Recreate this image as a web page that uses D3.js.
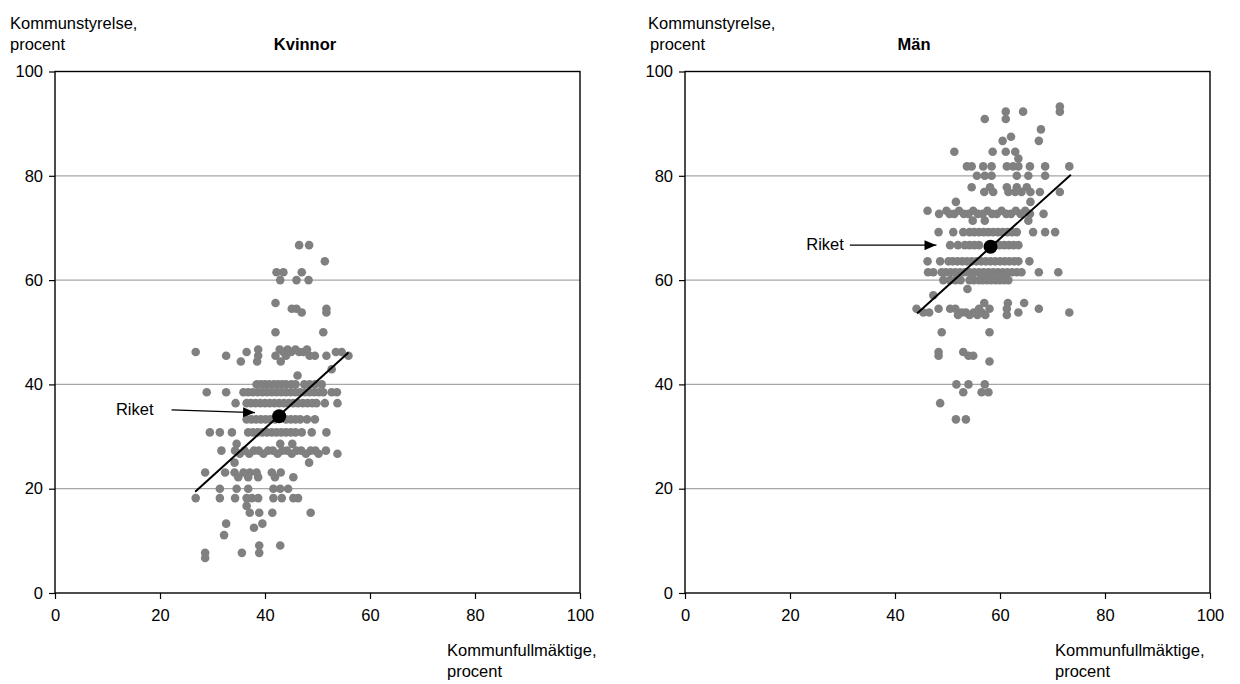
<!DOCTYPE html>
<html>
<head>
<meta charset="utf-8">
<script src="https://cdn.jsdelivr.net/npm/d3@7"></script>
<style>
  html, body { margin: 0; padding: 0; background: #fff; }
  svg { display: block; font-family: "Liberation Sans", Arial, sans-serif; }
</style>
</head>
<body>
<svg id="chart" width="1240" height="684"></svg>
<script>
// ---------- DATA ----------
const panelTitles = ["Kvinnor", "Män"];
const yAxisTitle = ["Kommunstyrelse,", "procent"];
const xAxisTitle = ["Kommunfullmäktige,", "procent"];
const tickValues = [0, 20, 40, 60, 80, 100];
const gridValues = [20, 40, 60, 80];
const riketLabel = "Riket";

// Kvinnor: [andel i kommunfullmäktige, andel i kommunstyrelse]
const kvinnorPoints = [
  [46.5,66.7],[48.4,66.7],[51.4,63.6],[42.2,61.5],[43.5,61.5],[47.0,61.5],
  [42.9,60.0],[46.0,60.0],[48.3,60.0],[42.0,55.6],[45.1,54.5],[46.0,54.5],
  [47.0,53.8],[51.7,54.5],[51.7,53.8],[42.0,50.0],[51.1,50.0],
  [26.8,46.2],[32.6,45.5],[35.4,44.4],[36.5,46.2],[38.7,46.7],[38.7,45.5],[38.5,44.4],
  [42.0,45.5],[42.8,46.7],[43.5,46.2],[44.3,46.7],[45.0,46.2],[45.8,46.7],[46.5,46.2],
  [47.3,46.2],[48.0,46.7],[48.5,45.5],[49.5,45.5],[43.0,44.4],[44.0,45.5],
  [51.7,45.5],[53.5,46.2],[54.6,46.2],[55.9,45.5],[46.2,41.7],[52.7,42.9],
  [38.4,40],[39.2,40],[40.0,40],[40.8,40],[41.7,40],[42.5,40],[43.3,40],[44.0,40],
  [45.0,40],[45.8,40],[47.5,40],[48.5,40],[49.5,40],[50.8,40],
  [28.9,38.5],[32.6,38.5],[35.9,38.5],[36.8,38.5],[37.7,38.5],[38.6,38.5],[39.5,38.5],
  [40.4,38.5],[41.3,38.5],[42.2,38.5],[43.1,38.5],[44.0,38.5],[44.9,38.5],[45.8,38.5],
  [46.7,38.5],[47.6,38.5],[48.5,38.5],[49.4,38.5],[50.3,38.5],[51.1,38.5],[52.7,38.5],[53.7,38.5],
  [34.4,36.4],[36.5,36.4],[37.3,36.4],[38.2,36.4],[39.1,36.4],[40.0,36.4],[40.9,36.4],
  [41.8,36.4],[42.7,36.4],[43.6,36.4],[44.5,36.4],[45.4,36.4],[46.3,36.4],[47.2,36.4],
  [48.1,36.4],[49.0,36.4],[49.8,36.4],[51.4,36.4],[53.8,36.4],
  [36.5,33.3],[37.4,33.3],[38.3,33.3],[39.2,33.3],[40.1,33.3],[41.0,33.3],[41.9,33.3],
  [44.0,33.3],[44.9,33.3],[45.8,33.3],[46.7,33.3],[48.0,33.3],[49.5,33.3],
  [29.5,30.8],[31.4,30.8],[33.7,30.8],[36.8,30.8],[37.7,30.8],[38.6,30.8],[39.5,30.8],
  [40.4,30.8],[41.3,30.8],[42.2,30.8],[43.1,30.8],[44.0,30.8],[44.9,30.8],[45.8,30.8],
  [47.0,30.8],[48.9,30.8],[51.7,30.8],
  [34.6,28.6],[42.9,28.6],[45.2,28.6],
  [31.7,27.3],[34.3,27.3],[35.2,26.7],[36.1,27.3],[37.0,26.7],[37.9,27.3],[38.8,27.3],
  [39.7,26.7],[40.6,27.3],[41.5,27.3],[42.4,26.7],[43.3,27.3],[44.2,27.3],[45.1,26.7],
  [46.0,27.3],[46.9,27.3],[47.8,26.7],[48.7,27.3],[49.6,27.3],[50.2,26.7],[51.6,27.3],[53.8,26.7],
  [34.2,25.0],[48.4,25.0],
  [28.6,23.1],[32.4,23.1],[34.2,23.1],[35.9,23.1],[37.1,23.1],[38.4,23.1],[41.3,23.1],[43.0,23.1],
  [34.9,22.2],[36.8,22.2],[38.7,22.2],[41.9,22.2],[45.4,22.2],
  [31.4,20.0],[34.6,20.0],[36.8,20.0],[41.6,20.0],[42.9,20.0],[44.4,20.0],
  [26.8,18.2],[31.4,18.2],[34.3,18.2],[36.5,18.2],[37.5,18.2],[38.7,18.2],[41.6,18.2],
  [43.2,18.2],[45.4,18.2],[46.3,18.2],
  [36.5,16.7],[37.1,15.4],[38.9,15.4],[41.4,15.4],[48.7,15.4],
  [32.6,13.3],[39.5,13.3],[37.9,12.5],[32.2,11.1],[38.9,9.1],[42.9,9.1],
  [38.9,7.7],[35.6,7.7],[28.6,7.7],[28.6,6.7]
];

// Män: [andel i kommunfullmäktige, andel i kommunstyrelse]
const manPoints = [
  [53.5,33.3],[51.6,33.3],[48.6,36.4],[57.8,38.5],[56.5,38.5],[53.0,38.5],
  [57.1,40.0],[54.0,40.0],[51.7,40.0],[58.0,44.4],[54.9,45.5],[54.0,45.5],
  [53.0,46.2],[48.3,45.5],[48.3,46.2],[58.0,50.0],[48.9,50.0],
  [73.2,53.8],[67.4,54.5],[64.6,55.6],[63.5,53.8],[61.3,53.3],[61.3,54.5],[61.5,55.6],
  [58.0,54.5],[57.2,53.3],[56.5,53.8],[55.7,53.3],[55.0,53.8],[54.2,53.3],[53.5,53.8],
  [52.7,53.8],[52.0,53.3],[51.5,54.5],[50.5,54.5],[57.0,55.6],[56.0,54.5],
  [48.3,54.5],[46.5,53.8],[45.4,53.8],[44.1,54.5],[53.8,58.3],[47.3,57.1],
  [61.6,60],[60.8,60],[60.0,60],[59.2,60],[58.3,60],[57.5,60],[56.7,60],[56.0,60],
  [55.0,60],[54.2,60],[52.5,60],[51.5,60],[50.5,60],[49.2,60],
  [71.1,61.5],[67.4,61.5],[64.1,61.5],[63.2,61.5],[62.3,61.5],[61.4,61.5],[60.5,61.5],
  [59.6,61.5],[58.7,61.5],[57.8,61.5],[56.9,61.5],[56.0,61.5],[55.1,61.5],[54.2,61.5],
  [53.3,61.5],[52.4,61.5],[51.5,61.5],[50.6,61.5],[49.7,61.5],[48.9,61.5],[47.3,61.5],[46.3,61.5],
  [65.6,63.6],[63.5,63.6],[62.7,63.6],[61.8,63.6],[60.9,63.6],[60.0,63.6],[59.1,63.6],
  [58.2,63.6],[57.3,63.6],[56.4,63.6],[55.5,63.6],[54.6,63.6],[53.7,63.6],[52.8,63.6],
  [51.9,63.6],[51.0,63.6],[50.2,63.6],[48.6,63.6],[46.2,63.6],
  [63.5,66.7],[62.6,66.7],[61.7,66.7],[60.8,66.7],[59.9,66.7],[59.0,66.7],[58.1,66.7],
  [56.0,66.7],[55.1,66.7],[54.2,66.7],[53.3,66.7],[52.0,66.7],[50.5,66.7],
  [70.5,69.2],[68.6,69.2],[66.3,69.2],[63.2,69.2],[62.3,69.2],[61.4,69.2],[60.5,69.2],
  [59.6,69.2],[58.7,69.2],[57.8,69.2],[56.9,69.2],[56.0,69.2],[55.1,69.2],[54.2,69.2],
  [53.0,69.2],[51.1,69.2],[48.3,69.2],
  [65.4,71.4],[57.1,71.4],[54.8,71.4],
  [68.3,72.7],[65.7,72.7],[64.8,73.3],[63.9,72.7],[63.0,73.3],[62.1,72.7],[61.2,72.7],
  [60.3,73.3],[59.4,72.7],[58.5,72.7],[57.6,73.3],[56.7,72.7],[55.8,72.7],[54.9,73.3],
  [54.0,72.7],[53.1,72.7],[52.2,73.3],[51.3,72.7],[50.4,72.7],[49.8,73.3],[48.4,72.7],[46.2,73.3],
  [65.8,75.0],[51.6,75.0],
  [71.4,76.9],[67.6,76.9],[65.8,76.9],[64.1,76.9],[62.9,76.9],[61.6,76.9],[58.7,76.9],[57.0,76.9],
  [65.1,77.8],[63.2,77.8],[61.3,77.8],[58.1,77.8],[54.6,77.8],
  [68.6,80.0],[65.4,80.0],[63.2,80.0],[58.4,80.0],[57.1,80.0],[55.6,80.0],
  [73.2,81.8],[68.6,81.8],[65.7,81.8],[63.5,81.8],[62.5,81.8],[61.3,81.8],[58.4,81.8],
  [56.8,81.8],[54.6,81.8],[53.7,81.8],
  [63.5,83.3],[62.9,84.6],[61.1,84.6],[58.6,84.6],[51.3,84.6],
  [67.4,86.7],[60.5,86.7],[62.1,87.5],[67.8,88.9],[61.1,90.9],[57.1,90.9],
  [61.1,92.3],[64.4,92.3],[71.4,92.3],[71.4,93.3]
];

// Riket (national value), trend lines and arrow endpoints, in data units
const riketKvinnor = [42.7, 33.9];
const riketMan = [58.2, 66.4];
const trendKvinnor = [[26.7, 19.4], [55.9, 46.1]];
const trendMan = [[44.2, 53.6], [73.5, 80.2]];
const arrowKvinnor = [[22.2, 35.1], [38.1, 34.6]];
const arrowMan = [[31.4, 66.7], [47.9, 66.7]];

// ---------- LAYOUT ----------
const svg = d3.select("#chart");
const FONT = 16.5;
const plotTop = 71.5, plotBottom = 593;

const panels = [
  { left: 55, right: 580, title: panelTitles[0], titleX: 305, yTitleX: [10, 10], xTitleX: 447,
    labelGap: 18, points: kvinnorPoints, riket: riketKvinnor, trend: trendKvinnor, arrow: arrowKvinnor },
  { left: 685, right: 1210, title: panelTitles[1], titleX: 914, yTitleX: [648, 650], xTitleX: 1055,
    labelGap: 6, points: manPoints, riket: riketMan, trend: trendMan, arrow: arrowMan }
];

const defs = svg.append("defs");
defs.append("marker")
  .attr("id", "arrowhead")
  .attr("viewBox", "0 0 12 10")
  .attr("refX", 12).attr("refY", 5)
  .attr("markerWidth", 12).attr("markerHeight", 10)
  .attr("markerUnits", "userSpaceOnUse")
  .attr("orient", "auto")
  .append("path").attr("d", "M0,0 L12,5 L0,10 Z").attr("fill", "#000");

panels.forEach(p => {
  const x = d3.scaleLinear().domain([0, 100]).range([p.left, p.right]);
  const y = d3.scaleLinear().domain([0, 100]).range([plotBottom, plotTop]);
  const g = svg.append("g");

  // grid lines
  g.selectAll("line.grid").data(gridValues).enter().append("line")
    .attr("x1", x(0)).attr("x2", x(100))
    .attr("y1", d => y(d)).attr("y2", d => y(d))
    .attr("stroke", "#a6a6a6").attr("stroke-width", 1.2);

  // axes
  const yAxis = g.append("g").attr("transform", `translate(${x(0)},0)`)
    .call(d3.axisLeft(y).tickValues(tickValues).tickSize(6).tickPadding(6));
  const xAxis = g.append("g").attr("transform", `translate(0,${y(0)})`)
    .call(d3.axisBottom(x).tickValues(tickValues).tickSize(6).tickPadding(10));
  [yAxis, xAxis].forEach(a => {
    a.select(".domain").remove();
    a.selectAll(".tick line").attr("stroke", "#000").attr("stroke-width", 1.2);
    a.selectAll(".tick text").attr("font-size", FONT).attr("fill", "#000")
      .attr("font-family", "Liberation Sans, Arial, sans-serif");
  });

  // frame
  g.append("rect")
    .attr("x", x(0)).attr("y", y(100))
    .attr("width", x(100) - x(0)).attr("height", y(0) - y(100))
    .attr("fill", "none").attr("stroke", "#000").attr("stroke-width", 1.4);

  // points
  g.selectAll("circle.pt").data(p.points).enter().append("circle")
    .attr("cx", d => x(d[0])).attr("cy", d => y(d[1]))
    .attr("r", 4.3).attr("fill", "#808080");

  // trend line
  g.append("line")
    .attr("x1", x(p.trend[0][0])).attr("y1", y(p.trend[0][1]))
    .attr("x2", x(p.trend[1][0])).attr("y2", y(p.trend[1][1]))
    .attr("stroke", "#000").attr("stroke-width", 2);

  // riket
  g.append("circle")
    .attr("cx", x(p.riket[0])).attr("cy", y(p.riket[1]))
    .attr("r", 7).attr("fill", "#000");

  // arrow + label
  g.append("line")
    .attr("x1", x(p.arrow[0][0])).attr("y1", y(p.arrow[0][1]))
    .attr("x2", x(p.arrow[1][0])).attr("y2", y(p.arrow[1][1]))
    .attr("stroke", "#000").attr("stroke-width", 1.2)
    .attr("marker-end", "url(#arrowhead)");
  g.append("text")
    .attr("x", x(p.arrow[0][0]) - p.labelGap).attr("y", y(p.arrow[0][1]) + 5)
    .attr("text-anchor", "end").attr("font-size", FONT)
    .text(riketLabel);

  // titles
  g.append("text").attr("x", p.titleX).attr("y", 50)
    .attr("text-anchor", "middle").attr("font-size", FONT).attr("font-weight", "bold")
    .text(p.title);
  yAxisTitle.forEach((t, i) => {
    g.append("text").attr("x", p.yTitleX[i]).attr("y", 29 + i * 21)
      .attr("font-size", FONT).text(t);
  });
  xAxisTitle.forEach((t, i) => {
    g.append("text").attr("x", p.xTitleX).attr("y", 656 + i * 21)
      .attr("font-size", FONT).text(t);
  });
});
</script>
</body>
</html>
